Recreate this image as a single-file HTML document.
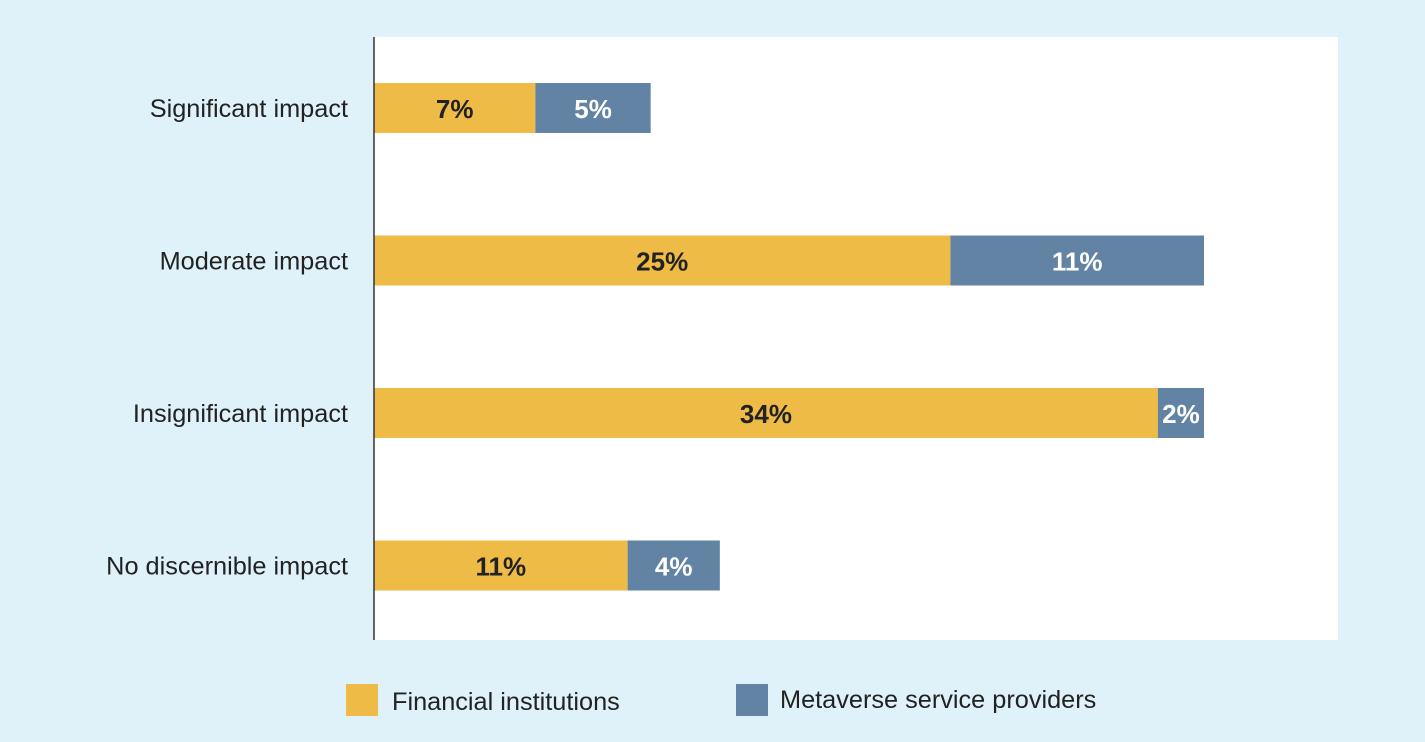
<!DOCTYPE html>
<html><head><meta charset="utf-8"><style>
html,body{margin:0;padding:0;background:#dff1f9;}
svg{display:block;font-family:"Liberation Sans Narrow","Liberation Sans",sans-serif;}
</style></head><body>
<svg id="chart" width="1425" height="742">
<rect x="0" y="0" width="1425" height="742" fill="#dff1f9"/>
<rect x="374" y="37" width="964" height="603" fill="#ffffff"/>
<g id="bars"></g>
<line x1="374" y1="37" x2="374" y2="640" stroke="#333" stroke-width="1.5"/>
<g>
<rect x="346" y="684" width="32" height="32" fill="#efbb47"/>
<text x="392" y="710" font-size="25.3" fill="#222">Financial institutions</text>
<rect x="736" y="684" width="32" height="32" fill="#6283a3"/>
<text x="780" y="708" font-size="25.3" fill="#222">Metaverse service providers</text>
</g>
</svg>
<script>
const categories = ["Significant impact","Moderate impact","Insignificant impact","No discernible impact"];
const financial = [7,25,34,11];
const metaverse = [5,11,2,4];
const ns = "http://www.w3.org/2000/svg";
const x0 = 374, pxPer = 830/36;
function xs(v){return x0 + v*pxPer;}
function yc(i){return 108 + i*152.5;}
const g = document.getElementById('bars');
function mk(tag, attrs){const e=document.createElementNS(ns,tag);for(const k in attrs)e.setAttribute(k,attrs[k]);g.appendChild(e);return e;}
categories.forEach((c,i)=>{
  const y=yc(i);
  const lab=mk('text',{x:348,y:y+9,'font-size':25.3,fill:'#222','text-anchor':'end'});
  lab.textContent=c;
  
  
  const r1=mk('rect',{x:xs(0),y:y-25,width:xs(financial[i])-xs(0),height:50,fill:'#efbb47'});
  
  
  const r2=mk('rect',{x:xs(financial[i]),y:y-25,width:xs(financial[i]+metaverse[i])-xs(financial[i]),height:50,fill:'#6283a3'});
  
  
  const t1=mk('text',{x:(xs(0)+xs(financial[i]))/2,y:y+10,'font-size':26,'font-weight':'bold',fill:'#222','text-anchor':'middle'});
  t1.textContent=financial[i]+'%';
  
  
  const t2=mk('text',{x:(xs(financial[i])+xs(financial[i]+metaverse[i]))/2,y:y+10,'font-size':26,'font-weight':'bold',fill:'#fff','text-anchor':'middle'});
  t2.textContent=metaverse[i]+'%';
  
  
});
</script>
</body></html>
